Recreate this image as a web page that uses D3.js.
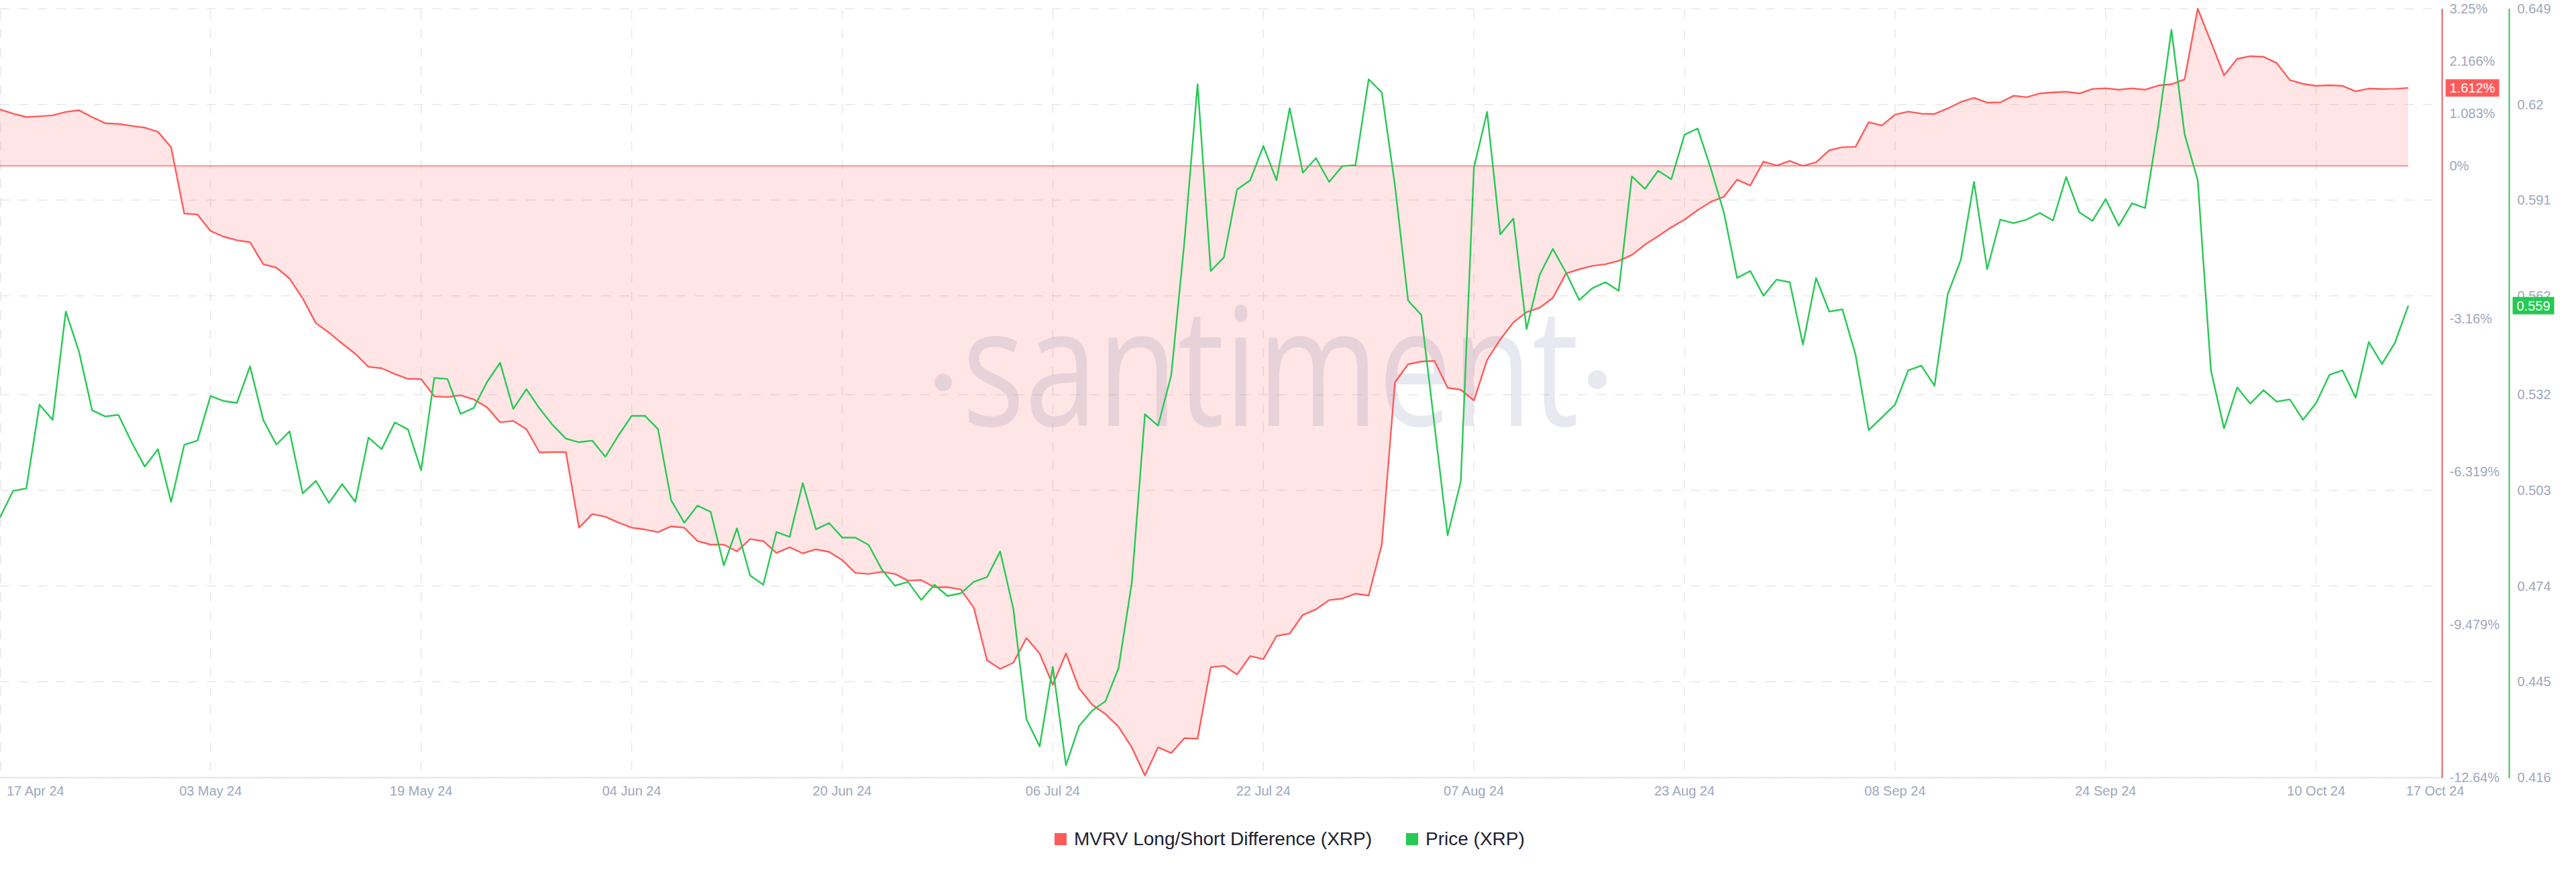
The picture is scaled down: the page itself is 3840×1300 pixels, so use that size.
<!DOCTYPE html>
<html>
<head>
<meta charset="utf-8">
<script src="https://cdn.jsdelivr.net/npm/d3@7"></script>
<style>
html, body { margin: 0; padding: 0; background: #ffffff; }
svg { display: block; }
</style>
</head>
<body>
<svg id="chart" width="3840" height="1300"></svg>
<script>
// ---------------- DATA ----------------
const startDate = "2024-04-17";
const endDate = "2024-10-17";

const seriesNames = ["MVRV Long/Short Difference (XRP)", "Price (XRP)"];

// MVRV Long/Short Difference (%), one value per day from 17 Apr 24 to 17 Oct 24
const mvrvValues = [
  1.167, 1.082, 1.011, 1.026, 1.047, 1.117, 1.152, 1.011, 0.883, 0.869,
  0.828, 0.792, 0.707, 0.388, -0.983, -1.005, -1.345, -1.464, -1.535, -1.578,
  -2.031, -2.102, -2.328, -2.739, -3.248, -3.446, -3.672, -3.884, -4.153, -4.182,
  -4.301, -4.401, -4.408, -4.762, -4.776, -4.741, -4.826, -4.988, -5.300, -5.271,
  -5.441, -5.922, -5.915, -5.915, -7.478, -7.195, -7.252, -7.373, -7.478, -7.514,
  -7.570, -7.450, -7.479, -7.755, -7.829, -7.829, -7.968, -7.712, -7.755, -8.000,
  -7.882, -8.009, -7.925, -7.977, -8.148, -8.413, -8.434, -8.392, -8.434, -8.572,
  -8.561, -8.709, -8.709, -8.753, -9.134, -10.217, -10.397, -10.269, -9.760, -10.078,
  -10.726, -10.078, -10.799, -11.139, -11.330, -11.595, -12.019, -12.600, -12.019, -12.136,
  -11.829, -11.840, -10.365, -10.333, -10.513, -10.131, -10.194, -9.718, -9.665, -9.282,
  -9.166, -8.974, -8.944, -8.841, -8.883, -7.829, -4.473, -4.099, -4.044, -4.030,
  -4.584, -4.626, -4.848, -4.010, -3.587, -3.234, -3.022, -2.930, -2.725, -2.222,
  -2.137, -2.066, -2.031, -1.961, -1.840, -1.628, -1.451, -1.268, -1.111, -0.913,
  -0.743, -0.637, -0.283, -0.404, 0.091, 0.007, 0.105, 0.000, 0.077, 0.324,
  0.388, 0.395, 0.905, 0.835, 1.061, 1.124, 1.081, 1.074, 1.188, 1.323,
  1.407, 1.309, 1.316, 1.450, 1.421, 1.499, 1.521, 1.535, 1.499, 1.592,
  1.605, 1.576, 1.605, 1.576, 1.662, 1.690, 1.790, 3.250, 2.568, 1.874,
  2.214, 2.270, 2.256, 2.128, 1.775, 1.697, 1.655, 1.669, 1.655, 1.542,
  1.599, 1.590, 1.595, 1.612
];

// XRP price (USD), one value per day
const priceValues = [
  0.4948, 0.5029, 0.5036, 0.5290, 0.5244, 0.5572, 0.5451, 0.5273, 0.5254, 0.5259,
  0.5176, 0.5102, 0.5155, 0.4995, 0.5168, 0.5181, 0.5316, 0.5301, 0.5295, 0.5406,
  0.5244, 0.5169, 0.5209, 0.5021, 0.5059, 0.4992, 0.5049, 0.4995, 0.5190, 0.5155,
  0.5236, 0.5215, 0.5091, 0.5371, 0.5368, 0.5262, 0.5280, 0.5358, 0.5417, 0.5277,
  0.5337, 0.5278, 0.5228, 0.5187, 0.5176, 0.5181, 0.5132, 0.5197, 0.5256, 0.5256,
  0.5216, 0.5000, 0.4932, 0.4984, 0.4965, 0.4803, 0.4915, 0.4772, 0.4744, 0.4904,
  0.4889, 0.5052, 0.4912, 0.4931, 0.4887, 0.4887, 0.4865, 0.4791, 0.4741, 0.4753,
  0.4698, 0.4744, 0.4710, 0.4718, 0.4753, 0.4767, 0.4845, 0.4671, 0.4336, 0.4254,
  0.4495, 0.4197, 0.4316, 0.4363, 0.4391, 0.4492, 0.4749, 0.5261, 0.5226, 0.5379,
  0.5783, 0.6261, 0.5695, 0.5736, 0.5942, 0.5970, 0.6074, 0.5970, 0.6188, 0.5993,
  0.6037, 0.5965, 0.6013, 0.6016, 0.6276, 0.6236, 0.5954, 0.5605, 0.5562, 0.5228,
  0.4894, 0.5057, 0.6008, 0.6177, 0.5806, 0.5854, 0.5519, 0.5684, 0.5762, 0.5690,
  0.5607, 0.5643, 0.5661, 0.5635, 0.5982, 0.5944, 0.5999, 0.5973, 0.6108, 0.6127,
  0.6006, 0.5871, 0.5674, 0.5695, 0.5620, 0.5669, 0.5661, 0.5472, 0.5674, 0.5572,
  0.5579, 0.5441, 0.5213, 0.5251, 0.5290, 0.5394, 0.5408, 0.5347, 0.5624, 0.5729,
  0.5965, 0.5700, 0.5851, 0.5840, 0.5851, 0.5871, 0.5848, 0.5980, 0.5873, 0.5847,
  0.5913, 0.5832, 0.5900, 0.5886, 0.6136, 0.6426, 0.6110, 0.5970, 0.5394, 0.5218,
  0.5342, 0.5293, 0.5334, 0.5299, 0.5306, 0.5244, 0.5295, 0.5380, 0.5394, 0.5311,
  0.5480, 0.5413, 0.5479, 0.5590
];

const xTickDates = ["2024-04-17", "2024-05-03", "2024-05-19", "2024-06-04", "2024-06-20",
  "2024-07-06", "2024-07-22", "2024-08-07", "2024-08-23", "2024-09-08", "2024-09-24", "2024-10-10"];
const lastTickDate = "2024-10-17";

const mvrvDomain = [-12.64, 3.25];
const mvrvTicks = [3.25, 2.166, 1.083, 0, -3.16, -6.319, -9.479, -12.64];
const priceDomain = [0.416, 0.649];
const priceTicks = [0.416, 0.445, 0.474, 0.503, 0.532, 0.562, 0.591, 0.62, 0.649];

const watermarkText = "santiment";

// ---------------- STYLE / LAYOUT ----------------
const RED = "#ff5b5b";
const GREEN = "#26c953";
const LABEL = "#a0a6bd";
const GRID = "#e7e7ea";
const FONT = "'Liberation Sans', Arial, Helvetica, sans-serif";

const plotLeft = 0, plotRight = 3640, plotTop = 13, plotBottom = 1159;
const lastX = 3590;

const parse = d3.utcParse("%Y-%m-%d");
const fmt = d3.utcFormat("%d %b %y");
const start = parse(startDate);
const dates = mvrvValues.map((_, i) => d3.utcDay.offset(start, i));

const mvrvData = dates.map((d, i) => ({ date: d, value: mvrvValues[i] }));
const priceData = dates.map((d, i) => ({ date: d, value: priceValues[i] }));

const x = d3.scaleUtc().domain([start, parse(endDate)]).range([plotLeft, lastX]);
const yL = d3.scaleLinear().domain(mvrvDomain).range([plotBottom, plotTop]);
const yR = d3.scaleLinear().domain(priceDomain).range([plotBottom, plotTop]);

const svg = d3.select("#chart");
svg.append("rect").attr("width", 3840).attr("height", 1300).attr("fill", "#ffffff");

// ---------------- GRID ----------------
const grid = svg.append("g");
grid.selectAll("line.h").data(priceTicks).join("line")
  .attr("class", "h")
  .attr("x1", plotLeft).attr("x2", plotRight)
  .attr("y1", d => yR(d)).attr("y2", d => yR(d))
  .attr("stroke", GRID).attr("stroke-width", 1.5).attr("stroke-dasharray", "14,14");

grid.selectAll("line.v").data(xTickDates.map(parse)).join("line")
  .attr("class", "v")
  .attr("x1", d => Math.max(x(d), 1)).attr("x2", d => Math.max(x(d), 1))
  .attr("y1", plotTop + 2).attr("y2", plotBottom)
  .attr("stroke", GRID).attr("stroke-width", 1.5).attr("stroke-dasharray", "14,14");

// bottom axis line
svg.append("line")
  .attr("x1", plotLeft).attr("x2", plotRight)
  .attr("y1", plotBottom + 0.5).attr("y2", plotBottom + 0.5)
  .attr("stroke", "#e6e6e8").attr("stroke-width", 2);

// ---------------- AREA ----------------
const area = d3.area()
  .x(d => x(d.date))
  .y0(yL(0))
  .y1(d => yL(d.value));
svg.append("path").datum(mvrvData)
  .attr("d", area)
  .attr("fill", "rgba(255,91,91,0.16)");

// ---------------- WATERMARK ----------------
const wm = svg.append("g").attr("fill", "rgba(120,130,170,0.18)");
wm.append("text")
  .attr("x", 1894).attr("y", 635)
  .attr("text-anchor", "middle")
  .attr("font-family", "'Open Sans', 'Noto Sans', sans-serif")
  .attr("font-size", 246)
  .attr("textLength", 919)
  .attr("lengthAdjust", "spacingAndGlyphs")
  .text(watermarkText);
wm.append("circle").attr("cx", 1406).attr("cy", 570).attr("r", 13);
wm.append("circle").attr("cx", 2381).attr("cy", 566).attr("r", 14);

// zero baseline
svg.append("line")
  .attr("x1", x(dates[0])).attr("x2", x(dates[dates.length - 1]))
  .attr("y1", yL(0)).attr("y2", yL(0))
  .attr("stroke", RED).attr("stroke-width", 1.2);

// ---------------- LINES ----------------
svg.append("path").datum(mvrvData)
  .attr("d", d3.line().x(d => x(d.date)).y(d => yL(d.value)))
  .attr("fill", "none").attr("stroke", RED).attr("stroke-width", 2.4)
  .attr("stroke-linejoin", "round");

svg.append("path").datum(priceData)
  .attr("d", d3.line().x(d => x(d.date)).y(d => yR(d.value)))
  .attr("fill", "none").attr("stroke", GREEN).attr("stroke-width", 2.4)
  .attr("stroke-linejoin", "round");

// ---------------- RIGHT AXES ----------------
const redAxisX = plotRight + 0.5;
const greenAxisX = plotRight + 100.5;
svg.append("line").attr("x1", redAxisX).attr("x2", redAxisX)
  .attr("y1", plotTop).attr("y2", plotBottom + 1)
  .attr("stroke", "#e35d62").attr("stroke-width", 2);
svg.append("line").attr("x1", greenAxisX).attr("x2", greenAxisX)
  .attr("y1", plotTop).attr("y2", plotBottom + 1)
  .attr("stroke", "#3fbb62").attr("stroke-width", 2);

svg.append("g").selectAll("text").data(mvrvTicks).join("text")
  .attr("x", redAxisX + 11).attr("y", d => yL(d))
  .attr("dominant-baseline", "central")
  .attr("font-family", FONT).attr("font-size", 20).attr("fill", LABEL)
  .text(d => d + "%");

svg.append("g").selectAll("text").data(priceTicks).join("text")
  .attr("x", greenAxisX + 12).attr("y", d => yR(d))
  .attr("dominant-baseline", "central")
  .attr("font-family", FONT).attr("font-size", 20).attr("fill", LABEL)
  .text(d => d);

// last-value badges
const lastMvrv = mvrvValues[mvrvValues.length - 1];
const lastPrice = priceValues[priceValues.length - 1];
const badge = (cx, cy, w, color, label) => {
  const g = svg.append("g");
  g.append("rect").attr("x", cx).attr("y", cy - 13).attr("width", w).attr("height", 26).attr("fill", color);
  g.append("text").attr("x", cx + 6).attr("y", cy)
    .attr("dominant-baseline", "central")
    .attr("font-family", FONT).attr("font-size", 20).attr("fill", "#ffffff")
    .text(label);
};
badge(redAxisX + 5, yL(lastMvrv), 80, RED, lastMvrv.toFixed(3) + "%");
badge(greenAxisX + 5, yR(lastPrice), 62, "#26c953", lastPrice.toFixed(3));

// ---------------- X AXIS LABELS ----------------
const xl = svg.append("g").attr("font-family", FONT).attr("font-size", 20).attr("fill", LABEL);
xTickDates.map(parse).forEach((d, i) => {
  xl.append("text")
    .attr("x", i === 0 ? x(d) + 10 : x(d))
    .attr("y", 1186)
    .attr("text-anchor", i === 0 ? "start" : "middle")
    .text(fmt(d));
});
xl.append("text")
  .attr("x", x(parse(lastTickDate)) + 40).attr("y", 1186)
  .attr("text-anchor", "middle")
  .text(fmt(parse(lastTickDate)));

// ---------------- LEGEND ----------------
const legend = svg.append("g").attr("font-family", FONT).attr("font-size", 28).attr("fill", "#1d2130");
const legendItems = [
  { name: seriesNames[0], color: RED, x: 1572 },
  { name: seriesNames[1], color: GREEN, x: 2096 }
];
legendItems.forEach(it => {
  legend.append("rect").attr("x", it.x).attr("y", 1242).attr("width", 18).attr("height", 18).attr("fill", it.color);
  legend.append("text").attr("x", it.x + 29).attr("y", 1260).text(it.name);
});
</script>
</body>
</html>
